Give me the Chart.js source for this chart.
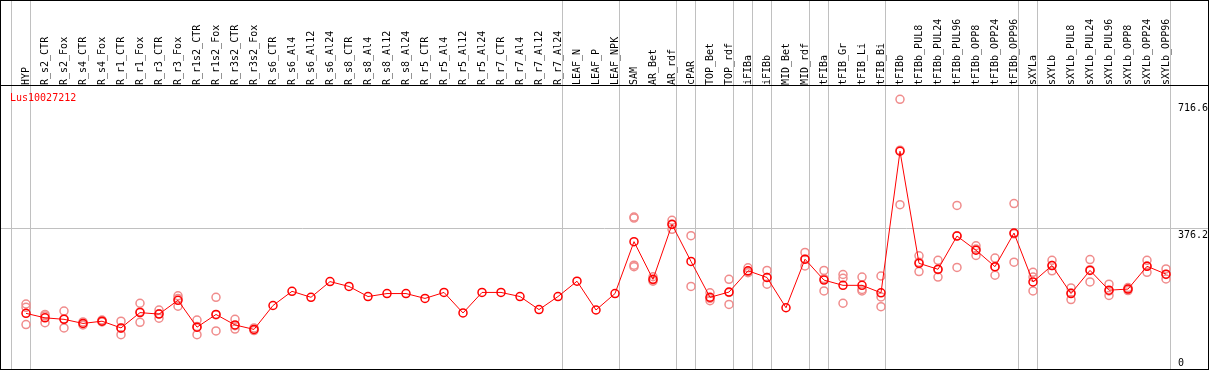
<!DOCTYPE html>
<html>
<head>
<meta charset="utf-8">
<script src="https://cdn.jsdelivr.net/npm/chart.js@4.4.1/dist/chart.umd.min.js"></script>
<style>
    html, body { margin: 0; padding: 0; background: #fff; }
    #frame { width: 1209px; height: 370px; box-sizing: border-box; border: 1px solid #000; overflow: hidden; }
    canvas { display: block; }
</style>
</head>
<body>
<div id="frame"><canvas id="chart" width="1207" height="368"></canvas></div>
<script>
const geneId = 'Lus10027212';

const samples = [
    'HYP', 'R_s2_CTR', 'R_s2_Fox', 'R_s4_CTR', 'R_s4_Fox', 'R_r1_CTR', 'R_r1_Fox', 'R_r3_CTR', 'R_r3_Fox',
    'R_r1s2_CTR', 'R_r1s2_Fox', 'R_r3s2_CTR', 'R_r3s2_Fox', 'R_s6_CTR', 'R_s6_Al4', 'R_s6_Al12', 'R_s6_Al24',
    'R_s8_CTR', 'R_s8_Al4', 'R_s8_Al12', 'R_s8_Al24', 'R_r5_CTR', 'R_r5_Al4', 'R_r5_Al12', 'R_r5_Al24',
    'R_r7_CTR', 'R_r7_Al4', 'R_r7_Al12', 'R_r7_Al24', 'LEAF_N', 'LEAF_P', 'LEAF_NPK', 'SAM', 'AR_Bet', 'AR_rdf',
    'cPAR', 'TOP_Bet', 'TOP_rdf', 'iFIBa', 'iFIBb', 'MID_Bet', 'MID_rdf', 'tFIBa', 'tFIB_Gr', 'tFIB_Li', 'tFIB_Bi',
    'tFIBb', 'tFIBb_PUL8', 'tFIBb_PUL24', 'tFIBb_PUL96', 'tFIBb_OPP8', 'tFIBb_OPP24', 'tFIBb_OPP96',
    'sXYLa', 'sXYLb', 'sXYLb_PUL8', 'sXYLb_PUL24', 'sXYLb_PUL96', 'sXYLb_OPP8', 'sXYLb_OPP24', 'sXYLb_OPP96'
];

// mean expression per sample
const means = [
    149, 137, 133, 122, 128, 110, 151, 147, 184, 112, 146, 118, 106,
    170, 208, 192, 234, 221, 194, 202, 202, 189, 205, 150, 205, 205, 194, 159, 194,
    235, 158, 202, 341, 240, 387, 288, 192, 206, 263, 245, 164, 294,
    238, 224, 224, 204, 583, 283, 267, 356, 318, 274, 364,
    233, 277, 202, 264, 211, 214, 275, 254
];

// replicates (null = none)
const rep1 = [
    174, 146, 155, 126, 131, 128, 176, 158, 196, 131, 192, 133, 110,
    null, null, null, null, null, null, null, null, null, null, null, null, null, null, null, null,
    null, null, null, 407, 247, 398, 357, 204, 240, 271, 264, null, 312,
    264, 253, 246, 249, 722, 303, 291, 438, 330, 297, 443,
    259, 291, 217, 293, 227, 218, 291, 268
];
const rep2 = [
    165, 124, 110, 118, 126, 92, 125, 136, 168, 92, 102, 107, 103,
    null, null, null, null, null, null, null, null, null, null, null, null, null, null, null, null,
    null, null, null, 404, 238, 374, 221, 183, 173, 258, 227, null, 276,
    209, 243, 213, 193, 440, 261, 246, 272, 304, 251, 286,
    246, 263, 186, 233, 197, 210, 259, 241
];
const rep3 = [
    119, 142, 134, 122, 128, 109, 153, 148, 189, 114, 145, 116, 106,
    null, null, null, null, null, null, null, null, null, null, null, null, null, null, null, null,
    null, null, null, 278, 235, 388, null, 189, 205, 261, 245, null, 294,
    242, 176, 209, 167, 586, 286, 266, 357, 321, 273, 362,
    209, 277, 204, 266, 209, 214, 276, 253
];
const rep4 = samples.map(s => s === 'SAM' ? 274 : null);

const yTickValues = [0, 376.2, 716.6];
// index of the last sample in each block (-1 = left edge)
const groupEnds = [-1, 0, 28, 31, 34, 35, 37, 38, 39, 41, 42, 45, 52, 53, 60];

const meanPoints = means.map((v, i) => ({ x: i, y: v }));
const repPoints = [];
[rep1, rep2, rep3, rep4].forEach(r => r.forEach((v, i) => {
    if (v !== null) repPoints.push({ x: i, y: v });
}));

const MONO = '"DejaVu Sans Mono", "Liberation Mono", monospace';

const decorations = {
    id: 'decorations',
    beforeDraw(chart) {
        const { ctx, chartArea } = chart;
        const x = chart.scales.x;
        ctx.save();
        ctx.strokeStyle = '#c0c0c0';
        ctx.lineWidth = 1;
        groupEnds.forEach(e => {
            const px = Math.floor(x.getPixelForValue(e + 0.25)) + 0.5;
            ctx.beginPath();
            ctx.moveTo(px, 0);
            ctx.lineTo(px, chartArea.bottom);
            ctx.stroke();
        });
        ctx.restore();
    },
    afterDraw(chart) {
        const { ctx, chartArea } = chart;
        const y = chart.scales.y;
        ctx.save();
        ctx.font = '10px ' + MONO;
        ctx.textBaseline = 'alphabetic';
        ctx.fillStyle = '#000';
        yTickValues.forEach(v => {
            const py = Math.min(y.getPixelForValue(v) + 10, chartArea.bottom - 3.5);
            ctx.fillText(String(v), chartArea.right - 30, py);
        });
        ctx.fillStyle = '#ff0000';
        ctx.fillText(geneId, chartArea.left + 9, chartArea.top + 16);
        ctx.restore();
    }
};

const xMin = -25 / 19;
const xMax = xMin + 1207 / 19;

new Chart(document.getElementById('chart'), {
    type: 'line',
    data: {
        datasets: [{
            data: meanPoints,
            borderColor: '#ff0000',
            borderWidth: 1,
            pointRadius: 4,
            pointBorderWidth: 1.5,
            pointBorderColor: '#ff0000',
            pointBackgroundColor: 'rgba(0,0,0,0)',
            tension: 0,
        }, {
            data: repPoints,
            showLine: false,
            pointRadius: 4,
            pointBorderWidth: 1.5,
            pointBorderColor: 'rgb(240,140,140)',
            pointBackgroundColor: 'rgba(0,0,0,0)',
        }]
    },
    options: {
        responsive: false,
        animation: false,
        devicePixelRatio: 1,
        layout: { padding: 0, autoPadding: false },
        plugins: { legend: { display: false }, tooltip: { enabled: false } },
        scales: {
            x: {
                type: 'linear',
                position: 'top',
                min: xMin,
                max: xMax,
                afterBuildTicks: s => { s.ticks = samples.map((_, i) => ({ value: i })); },
                afterFit: s => { s.height = 84; s.paddingLeft = 0; s.paddingRight = 0; },
                ticks: {
                    autoSkip: false,
                    minRotation: 90,
                    maxRotation: 90,
                    padding: 0,
                    labelOffset: 12.5,
                    color: '#000',
                    font: { family: MONO, size: 10 },
                    callback: v => samples[v],
                },
                grid: { display: false, drawTicks: false },
                border: { display: true, color: '#000', width: 1 },
            },
            y: {
                position: 'right',
                min: 0,
                max: 760.4,
                afterBuildTicks: s => { s.ticks = [{ value: yTickValues[1] }]; },
                afterFit: s => { s.width = 0; s.paddingTop = 0; s.paddingBottom = 0; },
                ticks: { display: false },
                grid: { color: '#c0c0c0', drawTicks: false },
                border: { display: false },
            }
        }
    },
    plugins: [decorations]
});
</script>
</body>
</html>
